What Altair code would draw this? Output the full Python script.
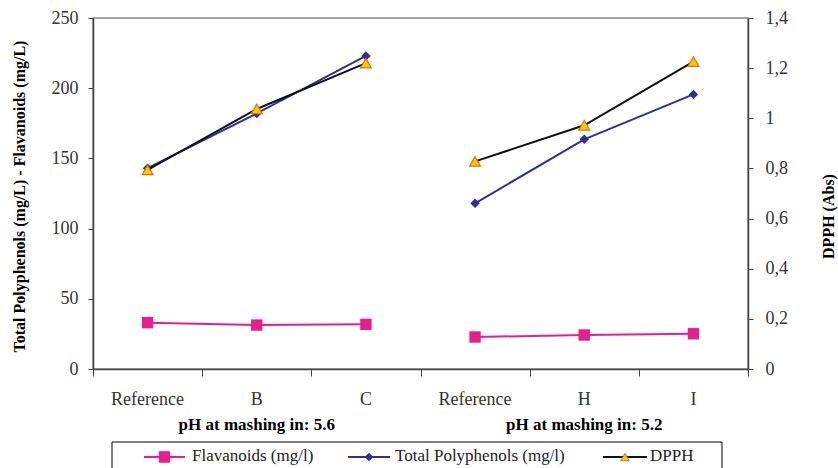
import altair as alt
import pandas as pd

categories = ["Reference", "B", "C", "Reference", "H", "I"]
groups = ["pH at mashing in: 5.6"] * 3 + ["pH at mashing in: 5.2"] * 3
flavanoids = [33.0, 31.3, 31.8, 22.8, 24.2, 25.1]
polyphenols = [143.0, 182.0, 223.0, 118.0, 163.6, 195.6]
dpph = [0.794, 1.037, 1.22, 0.828, 0.972, 1.226]
group_labels = ["pH at mashing in: 5.6", "pH at mashing in: 5.2"]
legend_labels = ["Flavanoids (mg/l)", "Total Polyphenols (mg/l)", "DPPH"]

PINK = "#E5208C"
NAVY = "#2E3192"
YELLOW = "#FFCC00"
ORANGE = "#E36C09"
FONT = "Times New Roman, Liberation Serif, serif"

W, H = 655, 351

df = pd.DataFrame({
    "pos": [i + 0.5 for i in range(len(categories))],
    "cat": categories,
    "group": groups,
    "flav": flavanoids,
    "poly": polyphenols,
    "dpph": dpph,
})
gdf = pd.DataFrame({"pos": [1.5, 4.5], "label": group_labels})

xs = alt.Scale(domain=[0, 6])
xaxis = alt.Axis(values=[0, 1, 2, 3, 4, 5, 6], labels=False, title=None, tickSize=7,
                 grid=False, domainColor="#444", tickColor="#444", domainWidth=1.5)
X = alt.X("pos:Q", scale=xs, axis=xaxis)

ly_scale = alt.Scale(domain=[0, 250])
ly_axis = alt.Axis(values=[0, 50, 100, 150, 200, 250], title="Total Polyphenols (mg/L) - Flavanoids (mg/L)",
                   tickSize=5, labelPadding=10, grid=False, titleX=-74, titleY=178,
                   titleAngle=270, titleBaseline="middle", titleAlign="center",
                   domainColor="#444", tickColor="#444", domainWidth=1.5)
ry_scale = alt.Scale(domain=[0, 1.4])
ry_axis = alt.Axis(values=[0, 0.2, 0.4, 0.6, 0.8, 1, 1.2, 1.4], title="DPPH (Abs)", orient="right",
                   tickSize=5, labelPadding=12, grid=False, titleX=80, titleY=198,
                   titleAngle=270, titleBaseline="middle", titleAlign="center",
                   labelExpr="replace(format(datum.value, '~g'), '.', ',')",
                   domainColor="#444", tickColor="#444", domainWidth=1.5)

base = alt.Chart(df)


def ly(field):
    return alt.Y(f"{field}:Q", scale=ly_scale, axis=ly_axis)


flav_line = base.mark_line(color=PINK, strokeWidth=2).encode(x=X, y=ly("flav"), detail="group:N")
flav_pts = base.mark_point(shape="square", filled=True, color=PINK, size=130, opacity=1).encode(x=X, y=ly("flav"))
poly_line = base.mark_line(color=NAVY, strokeWidth=2).encode(x=X, y=ly("poly"), detail="group:N")
poly_pts = base.mark_point(shape="diamond", filled=True, color=NAVY, size=90, opacity=1).encode(x=X, y=ly("poly"))
left = alt.layer(flav_line, flav_pts, poly_line, poly_pts)

RY = alt.Y("dpph:Q", scale=ry_scale, axis=ry_axis)
dpph_line = base.mark_line(color="#111", strokeWidth=2).encode(x=X, y=RY, detail="group:N")
dpph_pts = base.mark_point(shape="triangle-up", filled=True, fill=YELLOW, stroke=ORANGE,
                           strokeWidth=1.2, size=120, opacity=1).encode(x=X, y=RY)
right = alt.layer(dpph_line, dpph_pts)

cat_text = base.mark_text(font=FONT, fontSize=18, color="#333", baseline="alphabetic").encode(
    x=X, y=alt.value(H + 36), text="cat:N")
grp_text = alt.Chart(gdf).mark_text(font=FONT, fontSize=17, fontWeight="bold", color="#000",
                                    baseline="alphabetic").encode(
    x=alt.X("pos:Q", scale=xs, axis=xaxis), y=alt.value(H + 61), text="label:N")

one = pd.DataFrame({"k": [0]})
leg_y = H + 88
box = alt.Chart(one).mark_rect(fillOpacity=0, stroke="#000", strokeWidth=1).encode(
    x=alt.value(19), x2=alt.value(629), y=alt.value(H + 73), y2=alt.value(H + 130))

legend_layers = [box]
items = [
    (51, 92, 99, legend_labels[0], "square", PINK, PINK, PINK, 110),
    (255, 297, 302, legend_labels[1], "diamond", NAVY, NAVY, NAVY, 55),
    (510, 554, 557, legend_labels[2], "triangle-up", "#111", YELLOW, ORANGE, 70),
]
for x1, x2, xt, lab, shp, lc, fc, sc, sz in items:
    legend_layers.append(alt.Chart(one).mark_rule(color=lc, strokeWidth=2).encode(
        x=alt.value(x1), x2=alt.value(x2), y=alt.value(leg_y)))
    legend_layers.append(alt.Chart(one).mark_point(shape=shp, filled=True, fill=fc, stroke=sc,
                                                   strokeWidth=1, size=sz, opacity=1).encode(
        x=alt.value((x1 + x2) / 2), y=alt.value(leg_y)))
    legend_layers.append(alt.Chart(pd.DataFrame({"t": [lab]})).mark_text(
        font=FONT, fontSize=17, color="#222", align="left", baseline="middle").encode(
        x=alt.value(xt), y=alt.value(leg_y - 1), text="t:N"))

chart = alt.layer(left, right, cat_text, grp_text, *legend_layers).resolve_scale(
    y="independent"
).properties(
    width=W, height=H,
    autosize=alt.AutoSizeParams(type="none"),
    padding={"left": 93, "top": 18, "right": 90, "bottom": 99},
    background="white",
).configure_view(stroke="#888", strokeWidth=1.5).configure_axis(
    labelFont=FONT, labelFontSize=18, labelColor="#333",
    titleFont=FONT, titleFontSize=16, titleFontWeight="bold", titleColor="#000",
)

chart.save("out.html", embed_options={"renderer": "svg", "actions": False})
